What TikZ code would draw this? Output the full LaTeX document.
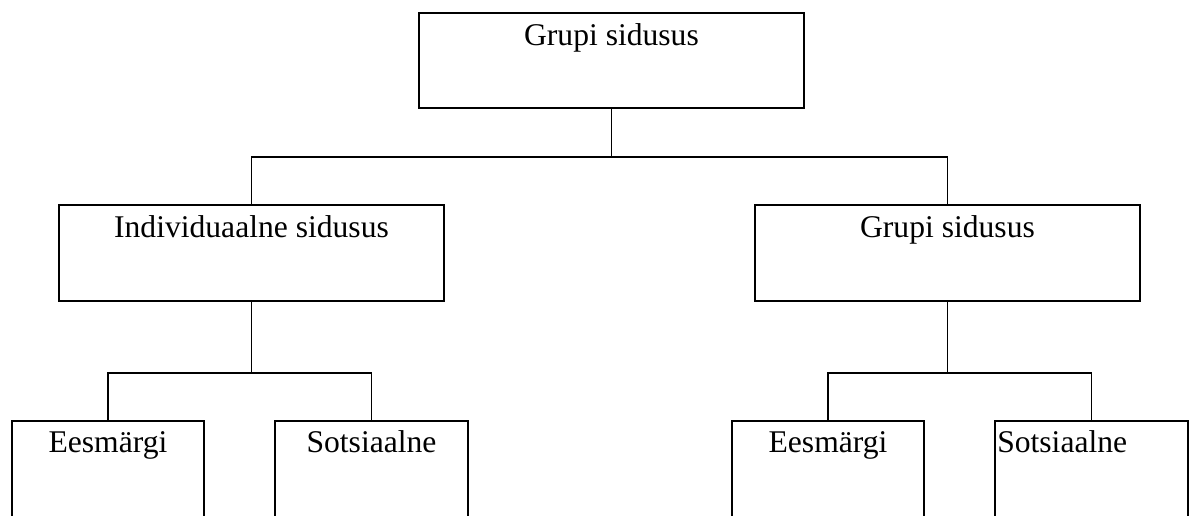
\documentclass[tikz,border=0pt]{standalone}
\usepackage{fontspec}
\setmainfont{Liberation Serif}
\tikzset{
  box/.style={draw, line width=1.4pt, outer sep=0pt, inner sep=0pt},
  widebox/.style={box, minimum width=288.75pt, minimum height=71.5pt},
  smallbox/.style={box, minimum width=144.5pt, minimum height=82pt},
  lbl/.style={anchor=base, inner sep=0pt, font=\fontsize{23.7}{28}\selectfont},
  link/.style={line width=1.4pt}
}
\begin{document}
\begin{tikzpicture}[x=0.75pt,y=0.75pt,yscale=-1,xscale=1]
        \useasboundingbox (0,0) rectangle (1190,515);
        \clip (0,0) rectangle (1190,515);
        %Shape: Rectangle [top]
        \node [widebox] (top) at (611.5,60.5) {};
        %Shape: Rectangle [middle]
        \node [widebox] (indiv) at (251.5,253) {};
        \node [widebox] (grupp) at (947.5,253) {};
        %Shape: Rectangle [bottom, runs off the page]
        \node [smallbox] (ieesm) at (108,475.5) {};
        \node [smallbox] (isots) at (371.5,475.5) {};
        \node [smallbox] (geesm) at (828,475.5) {};
        \node [smallbox] (gsots) at (1091.5,475.5) {};
        % junctions
        \coordinate (jtop) at (611.5,157);
        \coordinate (jind) at (251.5,373);
        \coordinate (jgrp) at (947.5,373);
        %Straight Lines
        \draw [link] (top.south) -- (jtop);
        \draw [link] (indiv.north) |- (jtop) -| (grupp.north);
        \draw [link] (indiv.south) -- (jind);
        \draw [link] (ieesm.north) |- (jind) -| (isots.north);
        \draw [link] (grupp.south) -- (jgrp);
        \draw [link] (geesm.north) |- (jgrp) -| (gsots.north);
        % Text Node
        \node [lbl] (ttop) at (611.5,45) {Grupi sidusus};
        % Text Node
        \node [lbl] (tindiv) at (251.5,237) {Individuaalne sidusus};
        % Text Node
        \node [lbl] (tgrupp) at (947.5,237) {Grupi sidusus};
        % Text Node
        \node [lbl] (tieesm) at (108,452) {Eesmärgi};
        % Text Node
        \node [lbl] (tisots) at (371.5,452) {Sotsiaalne};
        % Text Node
        \node [lbl] (tgeesm) at (828,452) {Eesmärgi};
        % Text Node
        \node [lbl, anchor=base west] (tgsots) at (997,452) {Sotsiaalne};
\end{tikzpicture}
\end{document}
